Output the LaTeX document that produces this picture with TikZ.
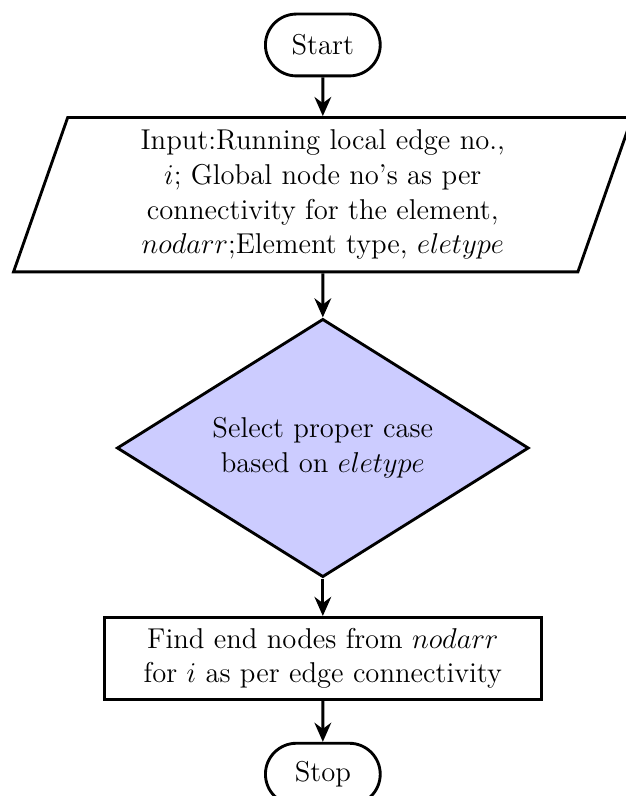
\documentclass[tikz,border=0pt,12pt]{standalone}
\usepackage{amsmath,amssymb}
\usepackage{tikz}
\usetikzlibrary{arrows.meta,positioning,shapes.geometric,shapes.misc}

\begin{document}
\begin{tikzpicture}[
    startstop/.style={draw,very thick,rounded rectangle,minimum width=1.97cm,minimum height=0.91cm,align=center},
    io/.style={draw,very thick,trapezium,trapezium left angle=70,trapezium right angle=110,trapezium stretches body=true,minimum width=9.1cm,minimum height=2.27cm,align=center},
    decision/.style={draw,very thick,diamond,fill=blue!20,aspect=1.6,minimum width=6.06cm,minimum height=3.8cm,inner sep=0pt,align=center},
    process/.style={draw,very thick,rectangle,minimum width=6.43cm,minimum height=1.21cm,align=center},
    arr/.style={->,very thick,>={Stealth[length=8pt,width=7pt]}}
]
\node[startstop] (start) {Start};
\useasboundingbox (-4.75,0.662) rectangle (4.457,-11.05);
\node[io,below=0.57cm of start] (input) {Input:Running local edge no.,\\$i$; Global node no's as per\\connectivity for the element,\\$nodarr$;Element type, $eletype$};
\node[decision,below=0.65cm of input] (select) {Select proper case\\based on $eletype$};
\node[process,below=0.55cm of select] (find) {Find end nodes from $nodarr$\\for $i$ as per edge connectivity};
\node[startstop,below=0.6cm of find] (stop) {Stop};

\draw[arr] (start) -- (input);
\draw[arr] (input) -- (select);
\draw[arr] (select) -- (find);
\draw[arr] (find) -- (stop);
\end{tikzpicture}
\end{document}
